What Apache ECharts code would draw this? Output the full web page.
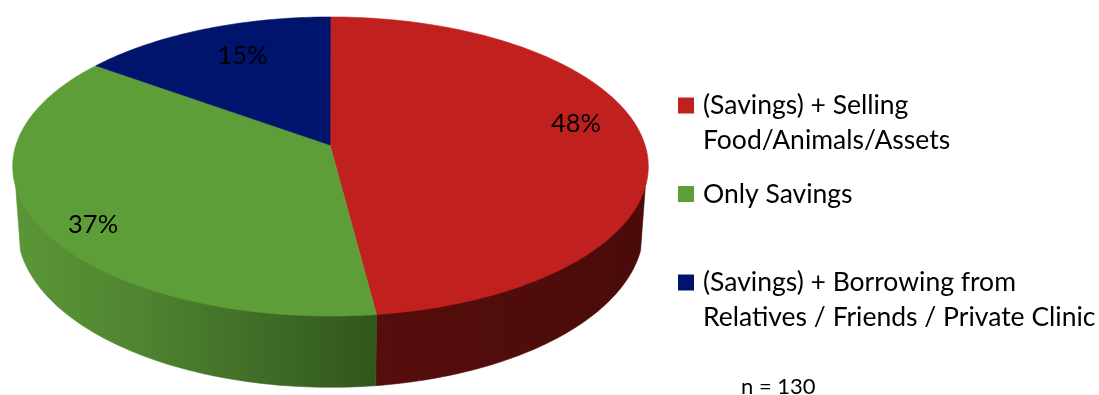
<!DOCTYPE html>
<html>
<head>
<meta charset="utf-8">
<style>html,body{margin:0;padding:0;background:#fff}#chart{width:1099px;height:395px}</style>
<script src="https://cdn.jsdelivr.net/npm/echarts@6/dist/echarts.min.js"></script>
</head>
<body>
<div id="chart"></div>
<script>
const categories = ['(Savings) + Selling\nFood/Animals/Assets', 'Only Savings', '(Savings) + Borrowing from\nRelatives / Friends / Private Clinic'];
const shares = [48, 37, 15];
const topColors = ['#C0211E', '#5E9E39', '#00146E'];
const sideGradients = [
  [[0, '#560E0C'], [1, '#4A0B0A']],
  [[0, '#5A9637'], [0.35, '#4F8430'], [0.7, '#3F6B26'], [1, '#2F561C']],
  [[0, '#000C46'], [1, '#000C46']]
];
const sampleSize = 'n = 130';

// Perspective disc: unit circle (u, v), v growing toward the viewer.
const pie = { cx: 330.5, cy: 145, halfWidth: 314.5, a: 125.6, c: -0.1438, depth: 61, bottomScale: 0.985 };
const project = (u, v, lower) => {
  const w = 1 + pie.c * v;
  const scale = lower ? pie.bottomScale : 1;
  return [
    pie.cx + scale * pie.halfWidth * u / w,
    (pie.a * v + pie.cy + (lower ? pie.depth : 0)) / w
  ];
};
const onRim = (deg, lower, r = 1) => {
  const t = deg * Math.PI / 180;
  return project(r * Math.sin(t), -r * Math.cos(t), lower);
};
const arc = (from, to, lower, r = 1) => {
  const pts = [];
  const steps = Math.max(2, Math.ceil(Math.abs(to - from)));
  for (let i = 0; i <= steps; i++) pts.push(onRim(from + (to - from) * i / steps, lower, r));
  return pts;
};

const total = shares.reduce((s, v) => s + v, 0);
const startAngle = i => shares.slice(0, i).reduce((s, v) => s + v, 0) / total * 360;

// Radial fraction and angular shift that place each percentage on its slice.
const labelPlacement = [
  { r: 0.81, shift: -6.8 },
  { r: 0.864, shift: -5.3 },
  { r: 0.733, shift: 2.3 }
];
const fontFamily = 'Lato, "Open Sans", sans-serif';

const renderSlice = index => () => {
  const a0 = startAngle(index);
  const a1 = a0 + shares[index] / total * 360;
  const children = [];
  // The wall spans the rim between the two points where its outline leaves the disc,
  // and its upper edge tucks under the top face so no seam shows.
  const w0 = Math.max(a0, 106), w1 = Math.min(a1, 254);
  if (w1 > w0) {
    const upper = [onRim(w0, false)].concat(arc(w0, w1, false, 0.99), [onRim(w1, false)]);
    const lower = arc(w1, w0, true);
    const shade = new echarts.graphic.LinearGradient(0, 0, 1, 0,
      sideGradients[index].map(s => ({ offset: s[0], color: s[1] })), false);
    children.push({
      type: 'polygon',
      shape: { points: upper.concat(lower) },
      style: { fill: shade, stroke: shade, lineWidth: 0.6 }
    });
  }
  children.push({
    type: 'polygon',
    shape: { points: [[pie.cx - 0.5, pie.cy]].concat(arc(a0, a1, false)) },
    style: { fill: topColors[index], stroke: topColors[index], lineWidth: 0.6 }
  });
  const place = labelPlacement[index];
  const mid = ((a0 + a1) / 2 + place.shift) * Math.PI / 180;
  const at = project(place.r * Math.sin(mid), -place.r * Math.cos(mid), false);
  children.push({
    type: 'text',
    x: at[0],
    y: at[1],
    z2: 10,
    style: {
      text: shares[index] + '%',
      align: 'center',
      verticalAlign: 'middle',
      fill: '#000',
      font: '25.5px ' + fontFamily
    }
  });
  return { type: 'group', children };
};

const legendCenters = [105.5, 194, 282.5];
const legendLine = 35;
const legends = categories.map((name, i) => {
  const twoLines = name.includes('\n');
  return {
    data: [name],
    left: 678,
    top: legendCenters[i] - (twoLines ? 1.5 : 0.5) * legendLine,
    padding: 0,
    itemWidth: 16,
    itemHeight: 16,
    itemGap: 0,
    icon: 'rect',
    selectedMode: false,
    // A blank first line keeps the swatch level with the first line of text.
    formatter: n => (twoLines ? '\n' : '') + n,
    textStyle: { fontFamily, fontSize: 26.5, lineHeight: legendLine, color: '#000', padding: [0, 0, 0, 4] }
  };
});

const chart = echarts.init(document.getElementById('chart'), null, { renderer: 'canvas' });
chart.setOption({
  animation: false,
  backgroundColor: '#fff',
  title: {
    text: sampleSize,
    left: 741,
    top: 376,
    padding: 0,
    textStyle: { fontFamily, fontSize: 22, fontWeight: 'normal', color: '#000' }
  },
  legend: legends,
  series: categories.map((name, i) => ({
    type: 'custom',
    name,
    coordinateSystem: 'none',
    silent: true,
    itemStyle: { color: topColors[i] },
    data: [[shares[i]]],
    renderItem: renderSlice(i)
  }))
});
</script>
</body>
</html>
